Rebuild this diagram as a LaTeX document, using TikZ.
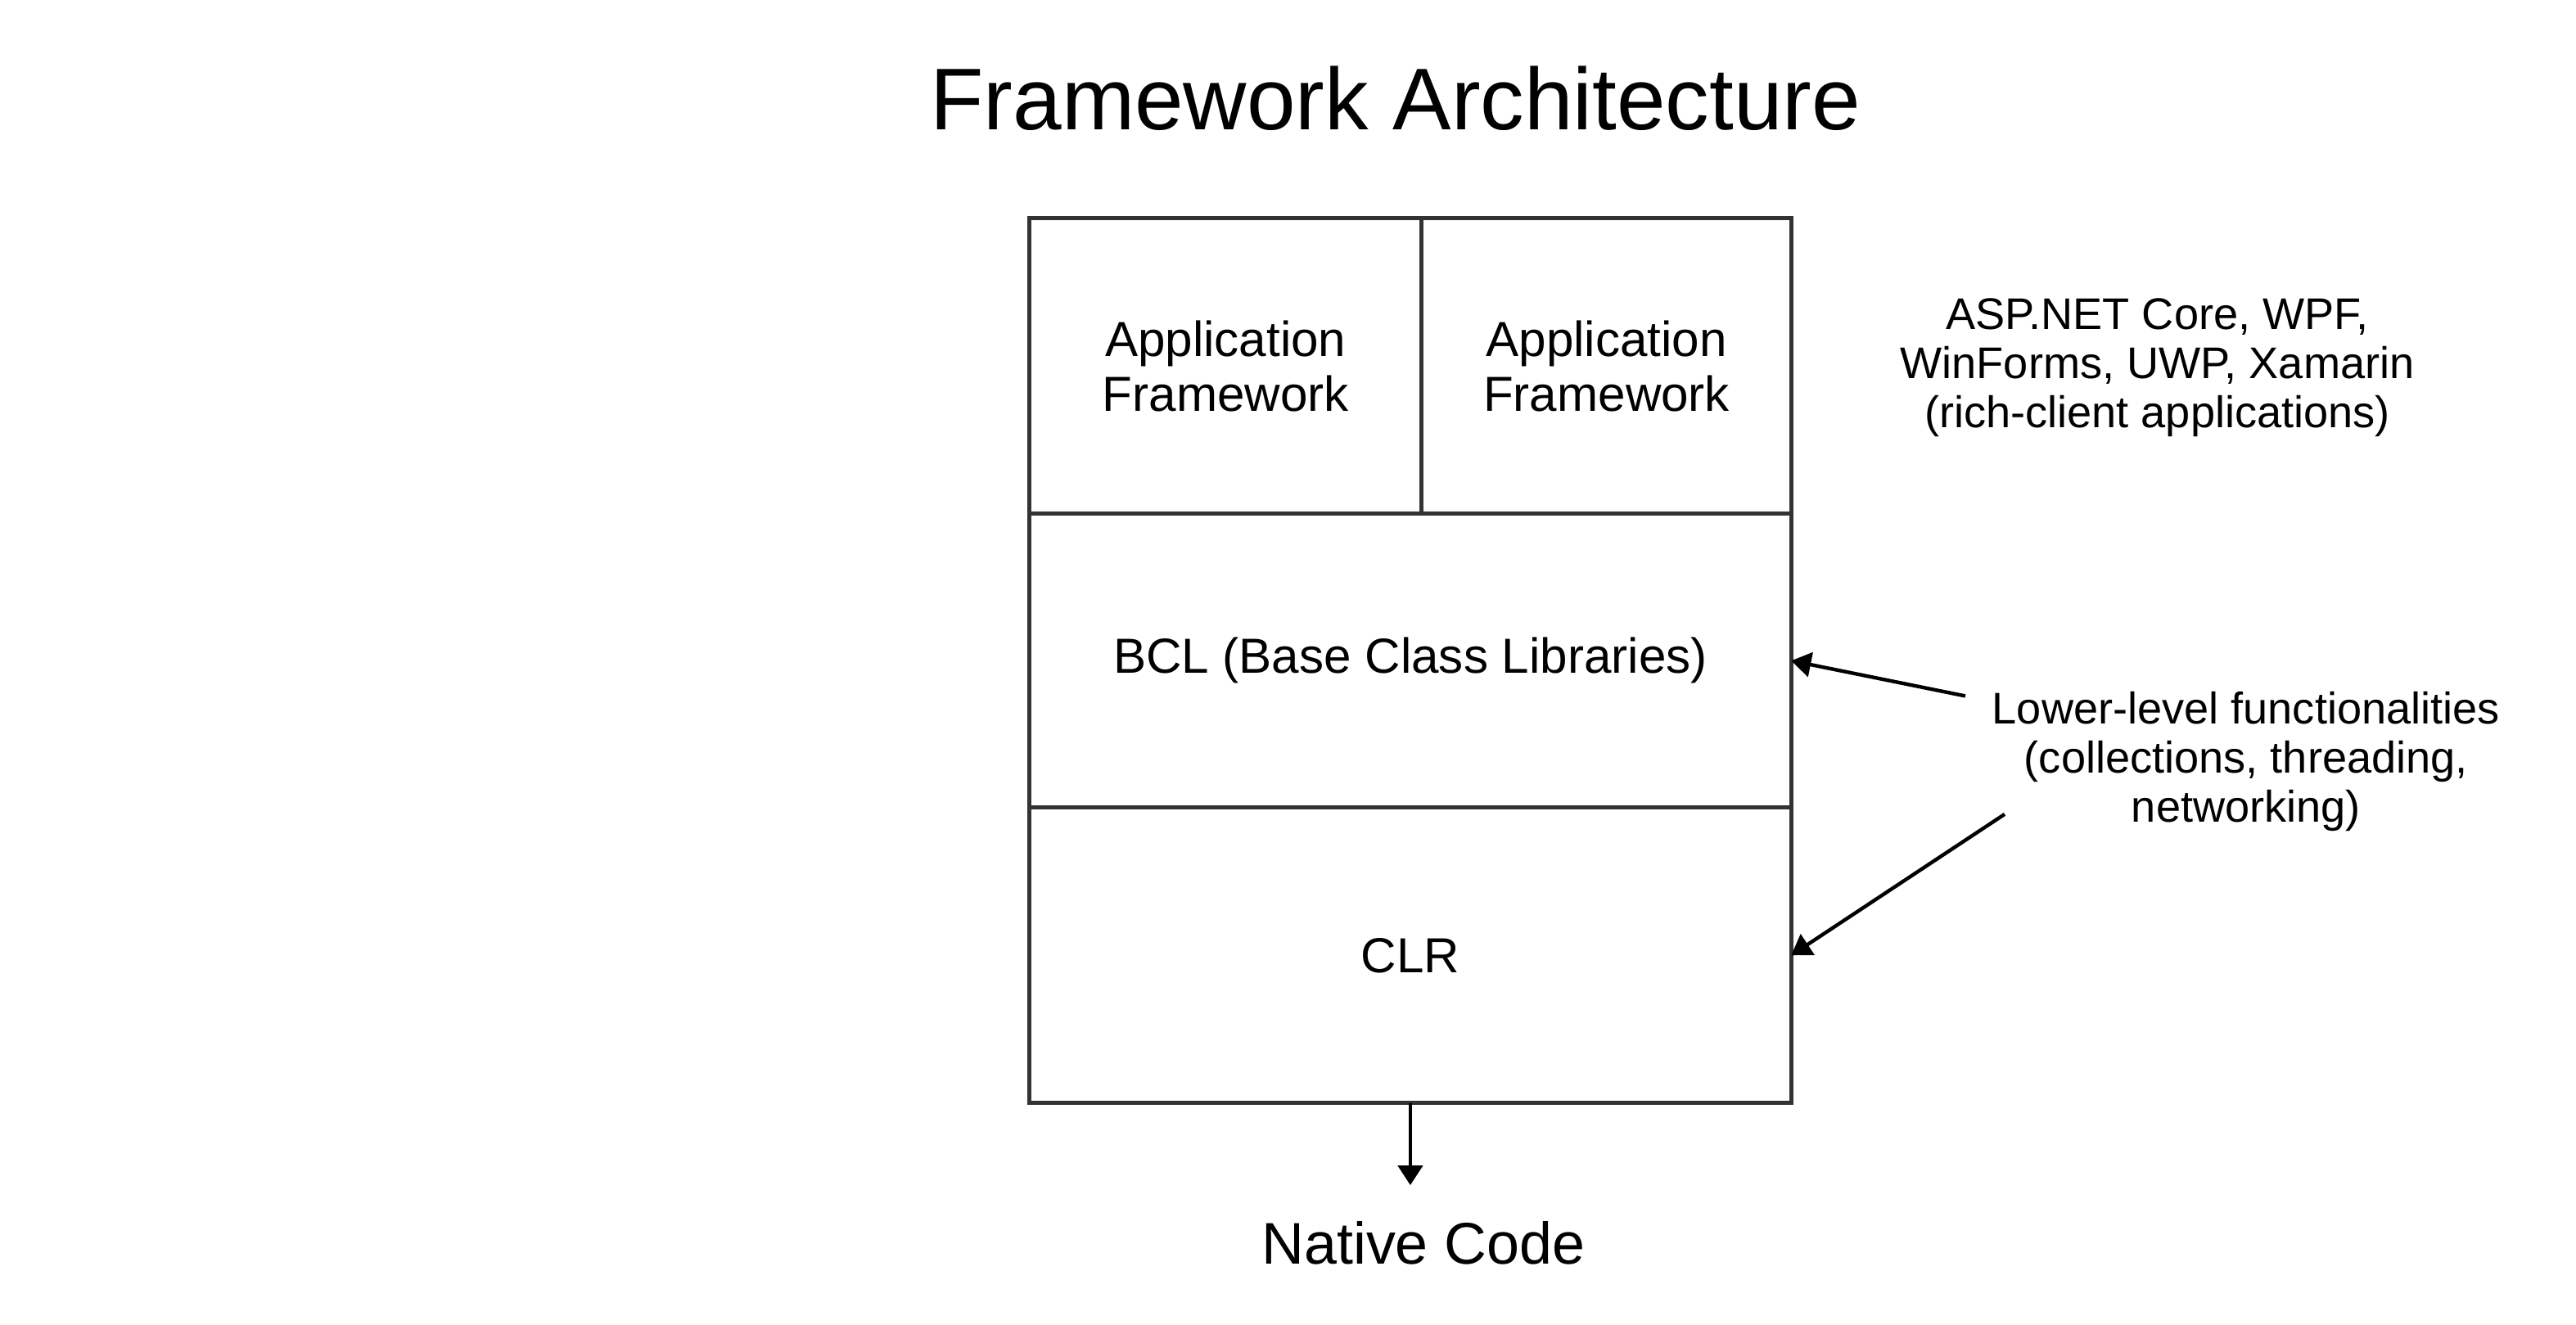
\documentclass[tikz,border=0pt]{standalone}
\usepackage{fontspec}
\setmainfont{Liberation Sans}
\usetikzlibrary{arrows.meta}
\usetikzlibrary{positioning}
\definecolor{edgegray}{HTML}{333333}
\tikzset{
  layer/.style={draw=edgegray, line width=1.25pt, rectangle, inner sep=0pt, outer sep=0pt,
    align=center, font=\fontsize{15}{16.6}\selectfont},
  note/.style={align=center, inner sep=0pt, font=\fontsize{13.5}{15}\selectfont},
  arr/.style={-{Triangle[length=6pt,width=7.5pt]}, line width=1.1pt, black}
}

\begin{document}
\begin{tikzpicture}[x=0.5pt, y=-0.5pt]
  \useasboundingbox (0,0) rectangle (1569,807);

  % Title
  \node[font=\fontsize{26.7}{30}\selectfont] (title) at (850,60) {Framework Architecture};

  % Stack of layers
  \node[layer, minimum width=119.5pt, minimum height=90pt] (appL) at (746.5,223) {Application\\Framework};
  \node[layer, minimum width=112.5pt, minimum height=90pt, anchor=west] (appR) at (appL.east) {Application\\Framework};
  \node[layer, minimum width=232pt, minimum height=89.5pt, anchor=north west] (bcl) at (appL.south west) {BCL (Base Class Libraries)};
  \node[layer, minimum width=232pt, minimum height=90pt, anchor=north west] (clr) at (bcl.south west) {CLR};

  % Output
  \node[font=\fontsize{17.9}{20}\selectfont] (native) at (867,757) {Native Code};
  \coordinate (nativeIn) at (859,722);
  \draw[arr] (clr.south) -- (nativeIn);

  % Side notes
  \node[note] (apps) at (1314,224) {ASP.NET Core, WPF,\\WinForms, UWP, Xamarin\\(rich-client applications)};
  \node[note] (lower) at (1368,464) {Lower-level functionalities\\(collections, threading,\\networking)};
  \coordinate (fromA) at (1197,424);
  \coordinate (fromB) at (1221,496);
  \draw[arr] (fromA) -- (bcl.east);
  \draw[arr] (fromB) -- (clr.east);
\end{tikzpicture}
\end{document}
